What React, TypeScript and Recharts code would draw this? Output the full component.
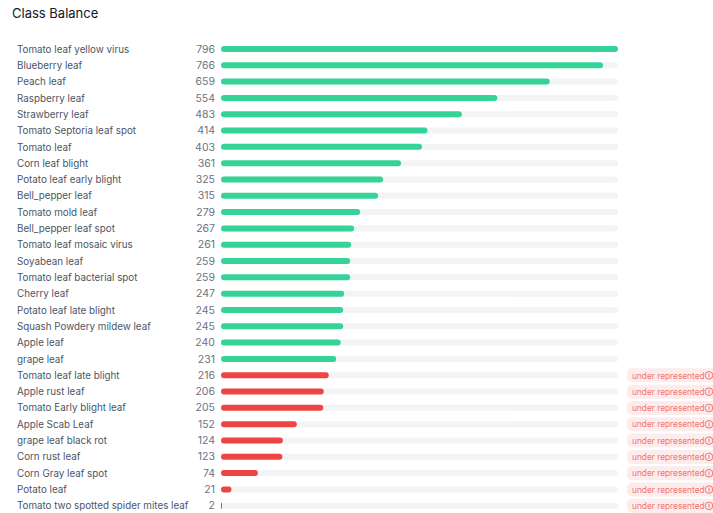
import React from 'react';
import { BarChart, Bar, XAxis, YAxis, Cell } from 'recharts';

const classes = [
  'Tomato leaf yellow virus',
  'Blueberry leaf',
  'Peach leaf',
  'Raspberry leaf',
  'Strawberry leaf',
  'Tomato Septoria leaf spot',
  'Tomato leaf',
  'Corn leaf blight',
  'Potato leaf early blight',
  'Bell_pepper leaf',
  'Tomato mold leaf',
  'Bell_pepper leaf spot',
  'Tomato leaf mosaic virus',
  'Soyabean leaf',
  'Tomato leaf bacterial spot',
  'Cherry leaf',
  'Potato leaf late blight',
  'Squash Powdery mildew leaf',
  'Apple leaf',
  'grape leaf',
  'Tomato leaf late blight',
  'Apple rust leaf',
  'Tomato Early blight leaf',
  'Apple Scab Leaf',
  'grape leaf black rot',
  'Corn rust leaf',
  'Corn Gray leaf spot',
  'Potato leaf',
  'Tomato two spotted spider mites leaf',
];

const counts = [
  796, 766, 659, 554, 483, 414, 403, 361, 325, 315, 279, 267, 261, 259, 259,
  247, 245, 245, 240, 231, 216, 206, 205, 152, 124, 123, 74, 21, 2,
];

const underRepresented = [
  false, false, false, false, false, false, false, false, false, false,
  false, false, false, false, false, false, false, false, false, false,
  true, true, true, true, true, true, true, true, true,
];

const data = classes.map((name, i) => ({
  name,
  count: counts[i],
  under: underRepresented[i],
}));

const GREEN = '#36d399';
const RED = '#ef4444';
const FONT = 'Inter, "Noto Sans", sans-serif';

function rowOf(payload: any, index: any) {
  return data[index ?? payload.index] || data.find((d) => d.name === payload.value);
}

function LeftTick({ y, payload, index }: any) {
  const row = rowOf(payload, index);
  return (
    <g>
      <text x={17} y={y} dy={3.5} fontSize={9.8} fill="#4b5563" fontFamily={FONT}>
        {payload.value}
      </text>
      <text x={215} y={y} dy={3.5} textAnchor="end" fontSize={10.5} fill="#6b7280" fontFamily={FONT}>
        {row ? row.count : ''}
      </text>
    </g>
  );
}

function RightTick({ y, payload, index }: any) {
  const row = rowOf(payload, index);
  if (!row || !row.under) return null;
  const x0 = 627;
  return (
    <g>
      <rect x={x0} y={y - 7} width={100} height={14} rx={5} fill="#fdecec" />
      <text x={x0 + 5} y={y} dy={3.2} fontSize={8.3} fill="#f07272" fontFamily={FONT}>
        under represented
      </text>
      <circle cx={x0 + 82} cy={y} r={3.8} fill="none" stroke="#f07272" strokeWidth={1} />
      <line x1={x0 + 82} y1={y - 2} x2={x0 + 82} y2={y + 2} stroke="#f07272" strokeWidth={1} />
    </g>
  );
}

export default function App() {
  return (
    <div
      style={{
        position: 'absolute',
        left: 0,
        top: 0,
        width: 713,
        height: 513,
        background: '#fff',
        overflow: 'hidden',
        fontFamily: FONT,
      }}
    >
      <div
        style={{
          position: 'absolute',
          left: 12,
          top: 5,
          fontSize: 13,
          color: '#111827',
          fontWeight: 400,
        }}
      >
        Class Balance
      </div>
      <BarChart
        width={713}
        height={514}
        data={data}
        layout="vertical"
        margin={{ top: 41, right: 0, bottom: 0, left: 0 }}
        barCategoryGap={0}
      >
        <XAxis type="number" domain={[0, 796]} hide />
        <YAxis
          yAxisId="left"
          type="category"
          dataKey="name"
          width={221}
          axisLine={false}
          tickLine={false}
          interval={0}
          tick={<LeftTick />}
        />
        <YAxis
          yAxisId="right"
          orientation="right"
          type="category"
          dataKey="name"
          width={95}
          axisLine={false}
          tickLine={false}
          interval={0}
          tick={<RightTick />}
        />
        <Bar
          yAxisId="left"
          dataKey="count"
          barSize={6}
          radius={3}
          background={{ fill: '#f3f4f6', radius: 3 } as any}
          isAnimationActive={false}
        >
          {data.map((d, i) => (
            <Cell key={i} fill={d.under ? RED : GREEN} />
          ))}
        </Bar>
      </BarChart>
    </div>
  );
}
